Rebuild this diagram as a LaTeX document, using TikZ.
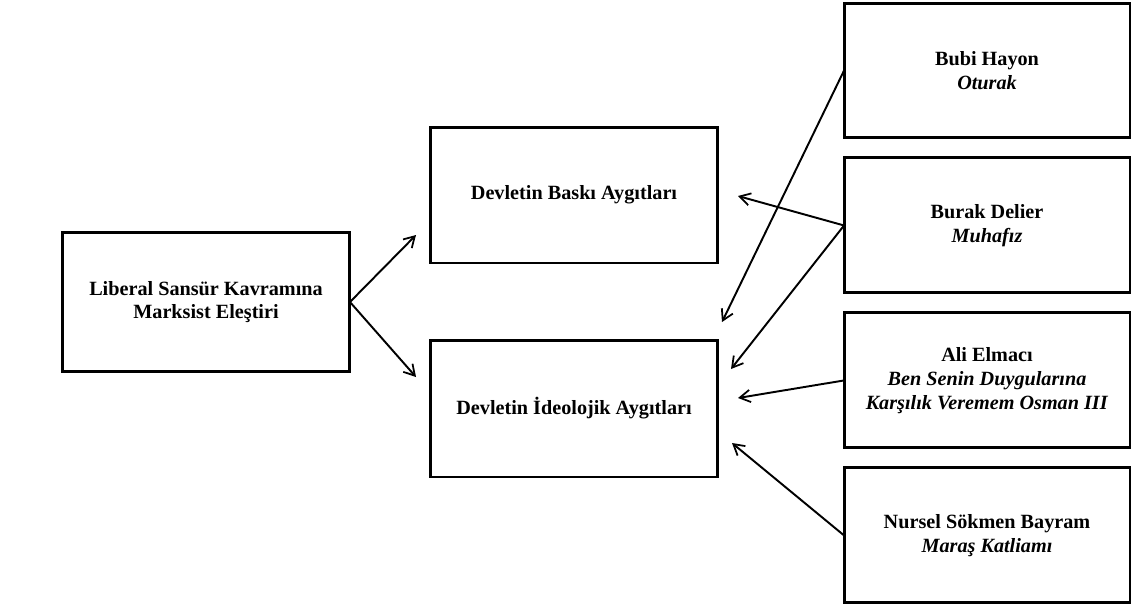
\documentclass[tikz,border=0pt]{standalone}
\usepackage{fontspec}
\setmainfont{Liberation Serif}
\usepackage{tikz}
\usetikzlibrary{
  positioning,
  arrows.meta
}

\begin{document}
\begin{tikzpicture}[
  x=0.02cm, y=-0.02cm,
  >={Straight Barb[length=6pt,width=7pt,line width=1pt]},
  konubox/.style={
    rectangle, minimum width=5.76cm, minimum height=2.74cm,
    align=center, draw=black, line width=1.7pt, fill=white, outer sep=0pt,
    font=\fontsize{11.5}{13.5}\selectfont\bfseries
  },
  eserbox/.style={
    konubox, minimum width=5.72cm, minimum height=2.7cm
  },
  ok/.style={->, line width=1.1pt}
]
\useasboundingbox (0,0) rectangle (1131,609);

\node[konubox, minimum height=2.78cm] (liberal) at (206,302) {
  Liberal Sansür Kavramına\\
  Marksist Eleştiri
};
\node[konubox, minimum height=2.72cm] (baski) at (574,195) {Devletin Baskı Aygıtları};
\node[konubox] (ideo) at (574,408.5) {Devletin İdeolojik Aygıtları};

\node[eserbox] (bubi) at (987,70.5) {
  Bubi Hayon\\
  \textit{Oturak}
};
\node[eserbox, below=0.4cm of bubi] (burak) {
  Burak Delier\\
  \textit{Muhafız}
};
\node[eserbox, below=0.4cm of burak] (ali) {
  Ali Elmacı\\
  \textit{Ben Senin Duygularına}\\
  \textit{Karşılık Veremem Osman III}
};
\node[eserbox, below=0.4cm of ali] (nursel) {
  Nursel Sökmen Bayram\\
  \textit{Maraş Katliamı}
};

% ok uclari
\coordinate (u1) at (416,235);
\coordinate (u2) at (416,377);
\coordinate (u3) at (738,196);
\coordinate (u4) at (722,322);
\coordinate (u5) at (731,369);
\coordinate (u6) at (738,398);
\coordinate (u7) at (732,443);

\draw[ok] (liberal.east) -- (u1);
\draw[ok] (liberal.east) -- (u2);
\draw[ok] (burak.west) -- (u3);
\draw[ok] (bubi.west) -- (u4);
\draw[ok] (burak.west) -- (u5);
\draw[ok] (ali.west) -- (u6);
\draw[ok] (nursel.west) -- (u7);

\end{tikzpicture}
\end{document}
